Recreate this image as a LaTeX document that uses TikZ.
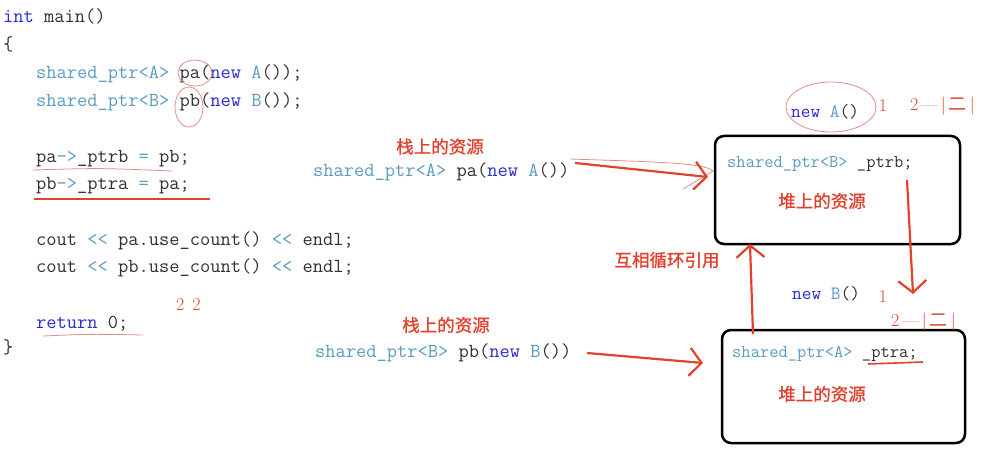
\documentclass[tikz,border=0pt]{standalone}
\usepackage{fontspec}
\usetikzlibrary{arrows.meta,calc}
\newfontfamily\cjk{Noto Sans CJK SC}
\newfontfamily\cjkb[FakeBold=1.2]{Noto Sans CJK SC}
\definecolor{tealc}{HTML}{5A9BC0}
\definecolor{kwc}{HTML}{2A2AD0}
\definecolor{codec}{HTML}{303030}
\definecolor{redc}{HTML}{E2412E}
\definecolor{pinkc}{HTML}{E58A8A}
\newcommand\tyc[1]{\textcolor{tealc}{#1}}
\newcommand\kwc[1]{\textcolor{kwc}{#1}}
\tikzset{
  code/.style={anchor=base west, inner sep=0pt, font=\ttfamily\fontsize{19.9}{20}\selectfont, text=codec},
  bcode/.style={anchor=base west, inner sep=0pt, font=\ttfamily\fontsize{18}{20}\selectfont, text=codec},
  lbl/.style={font=\cjkb\fontsize{17.5}{20}\selectfont, text=redc, inner sep=0pt},
  heap/.style={draw=black, line width=2.5pt, rounded corners=9pt, inner sep=0pt},
  redarrow/.style={draw=redc, line width=2.2pt, -{Straight Barb[length=12pt,width=28pt,line width=2.2pt]}},
  hand/.style={draw=pinkc, line width=0.8pt},
  handtxt/.style={text=redc, font=\fontsize{18}{20}\selectfont, inner sep=0pt},
}
\begin{document}
\begin{tikzpicture}[x=1pt,y=-1pt]
\useasboundingbox (0,0) rectangle (981,454);
% code
\node[code] (l1) at (3,23) {\kwc{int} main()};
\node[code] (l2) at (3,51) {\{};
\node[code] (l3) at (36,79) {\tyc{shared\_ptr<A>} pa(\kwc{new} \tyc{A}());};
\node[code] (l4) at (36,107) {\tyc{shared\_ptr<B>} pb(\kwc{new} \tyc{B}());};
\node[code] (l5) at (36,163) {pa\tyc{->}\_ptrb \tyc{=} pb;};
\node[code] (l6) at (36,190) {pb\tyc{->}\_ptra \tyc{=} pa;};
\node[code] (l7) at (36,245) {cout \tyc{<{}<} pa.use\_count() \tyc{<{}<} endl;};
\node[code] (l8) at (36,272) {cout \tyc{<{}<} pb.use\_count() \tyc{<{}<} endl;};
\node[code] (l9) at (36,328) {\kwc{return} 0;};
\node[code] (l10) at (3,353) {\}};
\node[handtxt, anchor=base west] (cnt) at (176,310) {2\;\,2};
% code annotations
\draw[hand] (195,73) ellipse [x radius=17pt, y radius=13pt];
\draw[hand] (189,107) ellipse [x radius=14pt, y radius=20pt];
\draw[hand] (33,170) .. controls (100,168) .. (172,171);
\draw[draw=redc, line width=2.4pt] (34,199) -- (210,199);
\draw[hand] (43,336) .. controls (90,334) .. (143,335);
% middle
\node[lbl] (st1) at (440,146.5) {栈上的资源};
\node[code] (sa) at (313,177) {\tyc{shared\_ptr<A>} pa(\kwc{new} \tyc{A}())};
\node[lbl] (st2) at (446,325) {栈上的资源};
\node[code] (sb) at (315,357) {\tyc{shared\_ptr<B>} pb(\kwc{new} \tyc{B}())};
\node[lbl] (cyc) at (667,260) {互相循环引用};
% heap boxes
\node[heap, minimum width=245pt, minimum height=108pt] (box1) at (837.5,190) {};
\node[bcode] (pb1) at (727,168) {\tyc{shared\_ptr<B>} \_ptrb;};
\node[lbl] (h1) at (822,201) {堆上的资源};
\node[heap, minimum width=243pt, minimum height=113pt] (box2) at (843.5,386.5) {};
\node[bcode] (pa2) at (732,357) {\tyc{shared\_ptr<A>} \_ptra;};
\node[lbl] (h2) at (822,394) {堆上的资源};
\draw[draw=redc, line width=1.6pt] (868,364) -- (923,362);
% new A / new B
\node[code, font=\ttfamily\fontsize{18.8}{20}\selectfont] (na) at (791,118) {\kwc{new} \tyc{A}()};
\draw[hand] (831,107) ellipse [x radius=45pt, y radius=25pt];
\node[handtxt] (na1) at (883,106) {1};
\node[handtxt, anchor=west] (na2) at (910,106) {2\,—\,|\,{\cjk 二}\,|};
\node[code, font=\ttfamily\fontsize{18.8}{20}\selectfont] (nb) at (792,299) {\kwc{new} \tyc{B}()};
\node[handtxt] (nb1) at (883,297) {1};
\node[handtxt, anchor=west] (nb2) at (891,322) {2\,—\,|\,{\cjk 二}\,|};
% arrows
\coordinate (a1s) at (575,163);
\coordinate (a1e) at (708,177);
\draw[hand] (570,159) .. controls (660,162) and (705,163) .. (713,171) -- (683,189);
\draw[redarrow] (a1s) -- (a1e);
\coordinate (a2s) at (587,353);
\coordinate (a2e) at (703,363);
\draw[redarrow] (a2s) -- (a2e);
\coordinate (dns) at (907,180);
\coordinate (dne) at (913,294);
\draw[redarrow] (dns) -- (dne);
\coordinate (ups) at (753,334);
\coordinate (upe) at (750,244);
\draw[redarrow] (ups) -- (upe);
\end{tikzpicture}
\end{document}
